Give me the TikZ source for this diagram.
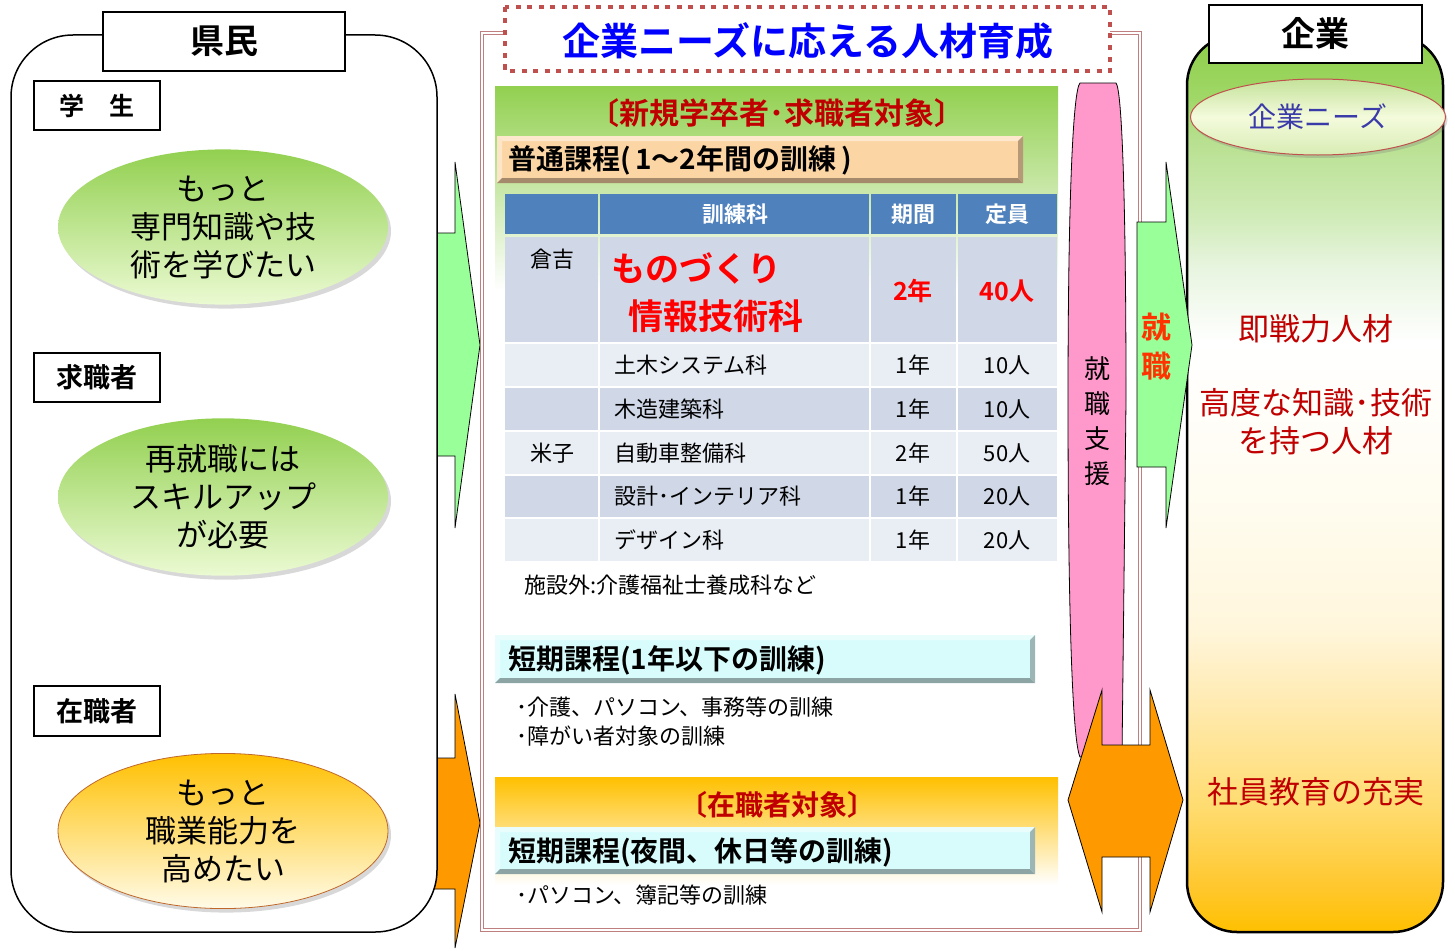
\documentclass[tikz,border=0pt]{standalone}
\usepackage{fontspec}
\setmainfont{Noto Sans CJK JP}[BoldFont={Noto Sans CJK JP Bold}]
\usetikzlibrary{shadows,shapes.geometric}
\newcommand\myfs[2]{\fontsize{#1pt}{#2pt}\selectfont}
\definecolor{lgreen}{HTML}{99FF99}
\definecolor{aorange}{HTML}{FF9900}
\definecolor{gtop}{HTML}{92D050}
\definecolor{gbot}{HTML}{EBFAD2}
\definecolor{otop}{HTML}{FFC000}
\definecolor{obot}{HTML}{FFFBE8}
\definecolor{ky0}{HTML}{FFC830}
\definecolor{ky1}{HTML}{FFDC70}
\definecolor{ky2}{HTML}{FFEAB0}
\definecolor{ky3}{HTML}{FFF6DC}
\definecolor{ky4}{HTML}{FFFCF0}
\definecolor{ky5}{HTML}{FFFFFF}
\definecolor{ky6}{HTML}{E8F5E0}
\definecolor{ky7}{HTML}{D0EBB8}
\definecolor{ky8}{HTML}{B8E090}
\definecolor{ky9}{HTML}{A0D868}
\definecolor{framec}{HTML}{BF7F7F}
\definecolor{dotc}{HTML}{C0504D}
\definecolor{hdr}{HTML}{4F81BD}
\definecolor{rowa}{HTML}{D0D8E8}
\definecolor{rowb}{HTML}{E9EDF4}
\definecolor{peach}{HTML}{FCD5A4}
\definecolor{cyanb}{HTML}{D8FCFC}
\definecolor{pinkb}{HTML}{FF99CC}
\definecolor{dred}{HTML}{C00000}
\definecolor{navy}{HTML}{3A3AA8}
\definecolor{shoku}{HTML}{FF3300}
\definecolor{ebrown}{HTML}{C0682A}
\definecolor{ntop}{HTML}{C4E29A}
\definecolor{nmid}{HTML}{F4FBDC}
\definecolor{nbot}{HTML}{D8ECB4}
\pgfdeclareverticalshading{kigyo}{100bp}{color(0bp)=(otop); color(25bp)=(otop); color(27.7bp)=(ky0); color(32bp)=(ky1); color(37.7bp)=(ky2); color(42bp)=(ky3); color(49.1bp)=(ky4); color(57.8bp)=(ky5); color(62bp)=(ky6); color(64.9bp)=(ky7); color(69.1bp)=(ky8); color(71.5bp)=(ky9); color(74bp)=(gtop); color(100bp)=(gtop)}
\newcommand\bevelbar[5]{%
  \fill[#5] (#1,#2) rectangle (#3,#4);
  \fill[#5!55!white] (#1,#2) -- (#3,#2) -- ({#3-5},{#2+5}) -- ({#1+5},{#2+5}) -- cycle;
  \fill[#5!60!white] (#1,#2) -- ({#1+5},{#2+5}) -- ({#1+5},{#4-5}) -- (#1,#4) -- cycle;
  \fill[#5!65!black] (#1,#4) -- (#3,#4) -- ({#3-5},{#4-5}) -- ({#1+5},{#4-5}) -- cycle;
  \fill[#5!72!black] (#3,#2) -- (#3,#4) -- ({#3-5},{#4-5}) -- ({#3-5},{#2+5}) -- cycle;
}
\tikzset{
  lbl/.style={draw=black, line width=1.2pt, fill=white, inner sep=0pt},
  wish/.style={ellipse, minimum width=330pt, minimum height=155pt, align=center,
    font=\myfs{31}{38}, drop shadow={opacity=0.3, shadow xshift=3pt, shadow yshift=-4pt}},
  tcell/.style={font=\myfs{22}{26}, inner sep=0pt},
  thead/.style={font=\bfseries\myfs{22}{26}, text=white, inner sep=0pt},
  bartext/.style={anchor=west, font=\bfseries\myfs{28}{32}, inner sep=0pt},
  sectitle/.style={font=\bfseries\myfs{28}{34}, text=dred, inner sep=0pt},
  bullets/.style={anchor=west, align=left, font=\myfs{22}{29}, inner sep=0pt},
  righttxt/.style={text=dred, align=center, font=\myfs{31}{38}, inner sep=0pt},
  blockarrow/.style={line width=0.8pt, draw=black},
}
\begin{document}
\begin{tikzpicture}[x=1pt,y=-1pt]
\useasboundingbox (0,0) rectangle (1455,950);
% ---------- left arrows
\draw[blockarrow, fill=lgreen] (415,233) -- (455,233) -- (455,162) -- (480,345) -- (455,528) -- (455,456) -- (415,456) -- cycle;
\draw[blockarrow, fill=aorange] (415,758) -- (455,758) -- (455,694) -- (480,823) -- (455,948) -- (455,889) -- (415,889) -- cycle;
% ---------- left panel
\draw[line width=1.5pt, fill=white, rounded corners=62pt] (11,35) rectangle (437,932);
\node[lbl, minimum width=242pt, minimum height=59pt, font=\bfseries\myfs{34}{40}] (kenmin) at (224,41.5) {県民};
\node[lbl, minimum width=126pt, minimum height=49pt, font=\bfseries\myfs{25}{30}] (gakusei) at (97,105.5) {学　生};
\node[lbl, minimum width=126pt, minimum height=49pt, font=\bfseries\myfs{27}{30}] (kyushoku) at (97,377.5) {求職者\hspace{10pt}};
\node[lbl, minimum width=126pt, minimum height=50pt, font=\bfseries\myfs{27}{30}] (zaishoku) at (97,711) {在職者\hspace{10pt}};
\node[wish, top color=gtop, bottom color=gbot] (e1) at (223,227) {もっと\\専門知識や技\\術を学びたい};
\node[wish, top color=gtop, bottom color=gbot] (e2) at (223,497) {再就職には\\スキルアップ\\が必要};
\node[wish, top color=otop, bottom color=obot, draw=ebrown, line width=0.8pt] (e3) at (223,831) {もっと\\職業能力を\\高めたい};
% ---------- centre frame
\draw[framec, line width=0.8pt, double=white, double distance=2pt] (482,33) rectangle (1140,930);
\draw[dotc, line width=4.5pt, dash pattern=on 5pt off 6.5pt, fill=white] (505,7) rectangle (1110,71);
\node[font=\bfseries\myfs{38}{44}, text=blue, inner sep=0pt] (title) at (808,41) {企業ニーズに応える人材育成};
% green section
\shade[top color=gtop, bottom color=white] (495,86) rectangle (1058,290);
\node[sectitle, font=\bfseries\myfs{30}{34}] (shinki) at (777,113) {〔新規学卒者･求職者対象〕};
\bevelbar{497}{136}{1023}{183}{peach}
\node[bartext] (futsu) at (508,160) {普通課程(\,1～2年間の訓練\,)};
% table
\foreach \xa/\xb in {505/598, 600/869, 871/956, 958/1057}{
  \fill[hdr] (\xa,194) rectangle (\xb,234);
}
\foreach \ya/\yb/\c in {237/342/rowa, 344/386/rowb, 388/430/rowa, 432/474/rowb, 476/517/rowa, 519/561/rowb}{
  \foreach \xa/\xb in {505/598, 600/869, 871/956, 958/1057}{
    \fill[\c] (\xa,\ya) rectangle (\xb,\yb);
  }
}
\node[thead] (hka) at (735,214) {訓練科};
\node[thead] (hkikan) at (913,214) {期間};
\node[thead] (hteiin) at (1007,214) {定員};
\node[tcell] (kurayoshi) at (552,259) {倉吉};
\node[anchor=west, text=red, font=\bfseries\myfs{34}{40}, inner sep=0pt] (mono) at (611,268) {ものづくり};
\node[anchor=west, text=red, font=\bfseries\myfs{35}{40}, inner sep=0pt] (joho) at (628,316) {情報技術科};
\node[text=red, font=\bfseries\myfs{25}{30}, inner sep=0pt] (r1k) at (913,291) {2年};
\node[text=red, font=\bfseries\myfs{25}{30}, inner sep=0pt] (r1t) at (1007,291) {40人};
\foreach \y/\nm/\k/\t in {365/土木システム科/1年/10人, 409/木造建築科/1年/10人, 453/自動車整備科/2年/50人, 496/設計･インテリア科/1年/20人, 540/デザイン科/1年/20人}{
  \node[tcell, anchor=west] (ka-\y) at (614,\y) {\nm};
  \node[tcell] (kikan-\y) at (913,\y) {\k};
  \node[tcell] (teiin-\y) at (1007,\y) {\t};
}
\node[tcell] (yonago) at (552,453) {米子};
\node[tcell, anchor=west] (shisetsu) at (524,585) {施設外:介護福祉士養成科など};
% short courses
\bevelbar{495}{635}{1035}{683}{cyanb}
\node[bartext] (tanki1) at (508,660) {短期課程(1年以下の訓練)};
\node[bullets] (list1) at (516,721.5) {･介護、パソコン、事務等の訓練\\･障がい者対象の訓練};
\shade[top color=otop, bottom color=white] (495,777) rectangle (1058,885);
\node[sectitle] (zaitaisho) at (777,805) {〔在職者対象〕};
\bevelbar{495}{827}{1035}{874}{cyanb}
\node[bartext] (tanki2) at (508,852) {短期課程(夜間、休日等の訓練)};
\node[bullets] (list2) at (516,895) {･パソコン、簿記等の訓練};
% pink support bar
\draw[line width=0.8pt, fill=pinkb] (1080,83) -- (1116,83) .. controls (1122,90) and (1126,200) .. (1126,400) -- (1122,757) -- (1080,757) .. controls (1072,740) and (1068,600) .. (1068,400) .. controls (1068,200) and (1073,90) .. cycle;
\node[align=center, font=\myfs{26}{35}, inner sep=0pt] (shien) at (1097,421) {就\\職\\支\\援};
% ---------- right panel
\shadedraw[shading=kigyo, draw=black, line width=2.5pt, rounded corners=50pt] (1187,35) rectangle (1443,932);
\node[lbl, line width=2.5pt, minimum width=213pt, minimum height=58pt, font=\bfseries\myfs{34}{40}] (kigyo) at (1315.5,34) {企業};
\node[ellipse, draw=dotc, line width=1pt, minimum width=255pt, minimum height=76pt, top color=ntop, bottom color=nbot, middle color=nmid, drop shadow={opacity=0.3, shadow xshift=2pt, shadow yshift=-3pt}, font=\myfs{28}{32}, text=navy] (needs) at (1318,117) {企業ニーズ};
\node[righttxt] (sokusen) at (1316,329) {即戦力人材};
\node[righttxt] (kodo) at (1316,422) {高度な知識･技術\\を持つ人材};
\node[righttxt] (shain) at (1316,792) {社員教育の充実};
% ---------- right arrows
\draw[blockarrow, fill=lgreen] (1137,222) -- (1166,222) -- (1166,162) -- (1192,345) -- (1166,528) -- (1166,467) -- (1137,467) -- cycle;
\node[align=center, text=shoku, font=\bfseries\myfs{30}{39}, inner sep=0pt] (shushoku) at (1156,347) {就\\職};
\draw[blockarrow, fill=aorange] (1068,800) -- (1102,690) -- (1102,745) -- (1150,745) -- (1150,690) -- (1183,800) -- (1150,912) -- (1150,857) -- (1102,857) -- (1102,912) -- cycle;
\end{tikzpicture}
\end{document}
